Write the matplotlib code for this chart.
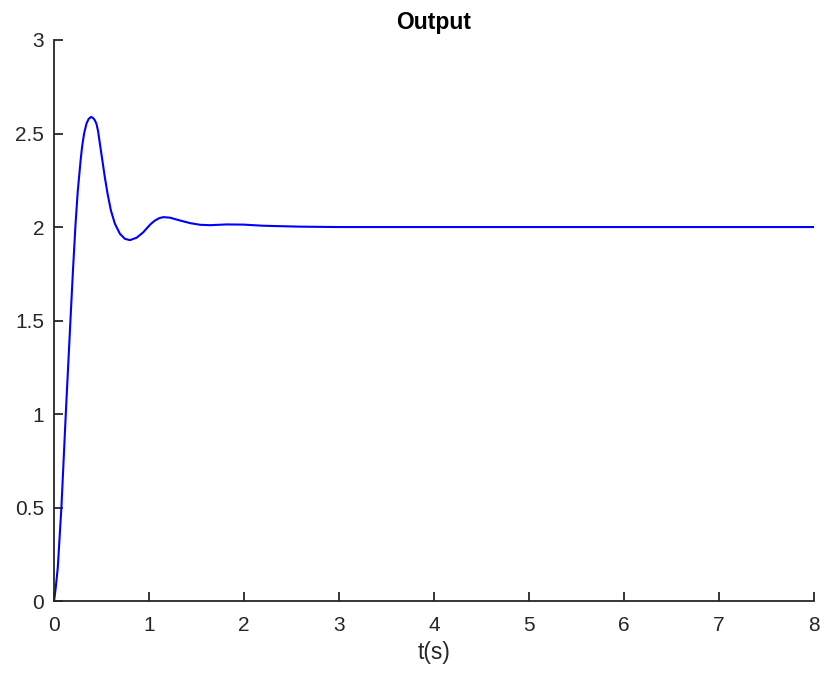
import matplotlib.pyplot as plt

# values
t = [0, 0.006, 0.02, 0.04, 0.078, 0.124, 0.173, 0.2, 0.226, 0.25, 0.279,
     0.296, 0.317, 0.342, 0.365, 0.391, 0.413, 0.43, 0.448, 0.465, 0.483,
     0.509, 0.535, 0.564, 0.599, 0.641, 0.694, 0.747, 0.8, 0.87, 0.94, 0.976,
     1.02, 1.063, 1.11, 1.151, 1.222, 1.327, 1.433, 1.539, 1.644, 1.82, 1.996,
     2.2, 2.6, 3.0, 4.0, 5.0, 6.0, 7.0, 8.0]
y = [0, 0.02, 0.08, 0.18, 0.5, 1.0, 1.5, 1.77, 2.01, 2.19, 2.35,
     2.43, 2.5, 2.553, 2.578, 2.589, 2.582, 2.571, 2.55, 2.51, 2.446,
     2.357, 2.267, 2.178, 2.089, 2.018, 1.964, 1.937, 1.93, 1.943, 1.972, 1.993,
     2.017, 2.035, 2.048, 2.053, 2.05, 2.035, 2.021, 2.012, 2.01, 2.014, 2.013,
     2.007, 2.002, 2.0, 2.0, 2.0, 2.0, 2.0, 2.0]

plt.rcParams['font.family'] = ['Liberation Sans', 'DejaVu Sans']
dark = '#262626'

fig = plt.figure(figsize=(8.23, 6.74), dpi=100)
ax = fig.add_axes([0.0656, 0.108, 0.9234, 0.8327])
ax.plot(t, y, color='#0000ff', lw=1.5)
ax.set_xlim(0, 8)
ax.set_ylim(0, 3)
ax.set_xticks(range(0, 9))
ax.set_yticks([0, 0.5, 1, 1.5, 2, 2.5, 3])
ax.set_yticklabels(['0', '0.5', '1', '1.5', '2', '2.5', '3'])
for s in ['top', 'right']:
    ax.spines[s].set_visible(False)
for s in ['left', 'bottom']:
    ax.spines[s].set_color(dark)
    ax.spines[s].set_linewidth(1.3)
ax.tick_params(direction='in', length=6.5, width=1.3, colors=dark, labelsize=15)
ax.tick_params(axis='y', pad=7)
ax.tick_params(axis='x', pad=11)
ax.set_xlabel('t(s)', fontsize=16.5, color=dark, labelpad=4)
ax.set_title('Output', fontsize=16.5, fontweight='bold', pad=8)
fig.savefig('out.png', dpi=100)
